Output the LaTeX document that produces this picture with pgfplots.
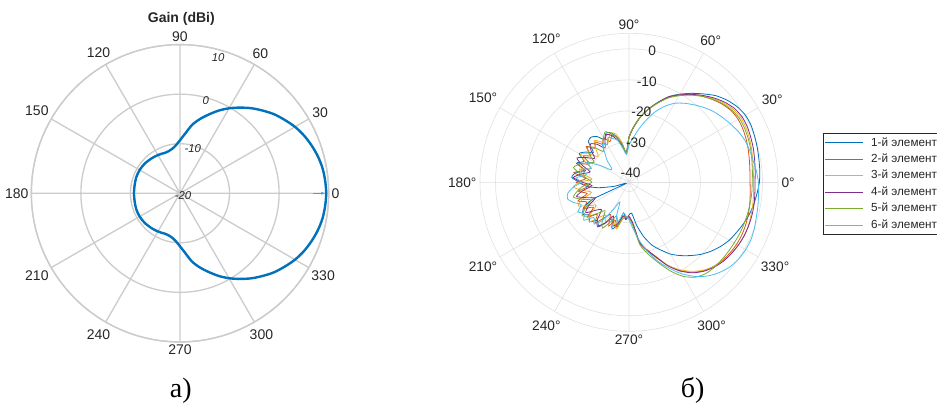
\documentclass[border=0pt]{standalone}
\usepackage{fontspec}
\setmainfont{Liberation Sans}
\newfontfamily\capfont{Liberation Serif}
\usepackage{pgfplots}
\pgfplotsset{compat=1.18}
\usepackage{pgfplotstable}
\usepgfplotslibrary{polar}
\usetikzlibrary{arrows.meta}

\definecolor{mb}{rgb}{0,0.447,0.741}
\definecolor{mo}{rgb}{0.85,0.325,0.098}
\definecolor{my}{rgb}{0.929,0.694,0.125}
\definecolor{mp}{rgb}{0.494,0.184,0.556}
\definecolor{mg}{rgb}{0.466,0.674,0.188}
\definecolor{mc}{rgb}{0.301,0.745,0.933}
\definecolor{lgrid}{rgb}{0.80,0.80,0.80}
\definecolor{rgrid}{rgb}{0.88,0.88,0.88}
\definecolor{tx}{rgb}{0.15,0.15,0.15}

% left: gain in dBi
\pgfplotstableread{
a g
-180 -10.7
-170 -10.7
-160 -10.6
-150 -10.6
-140 -10.7
-130 -10.9
-125 -11.0
-120 -11.1
-115 -11.2
-110 -11.3
-105 -11.2
-100 -10.9
-95 -10.3
-90 -9.3
-85 -7.9
-80 -6.0
-75 -4.5
-70 -3.1
-65 -1.6
-60 -0.2
-55 1.1
-50 2.4
-45 3.6
-40 4.8
-35 5.8
-30 6.8
-25 7.6
-20 8.25
-15 8.8
-10 9.2
-5 9.4
0 9.5
5 9.4
10 9.2
15 8.8
20 8.25
25 7.6
30 6.8
35 5.8
40 4.8
45 3.6
50 2.4
55 1.1
60 -0.2
65 -1.6
70 -3.1
75 -4.5
80 -6.0
85 -7.9
90 -9.3
95 -10.3
100 -10.9
105 -11.2
110 -11.3
115 -11.2
120 -11.1
125 -11.0
130 -10.9
140 -10.7
150 -10.6
160 -10.6
170 -10.7
180 -10.7
}\gainA

\pgfplotstableread{
a g
-90 -32.5
-85 -33
-80 -29
-75 -25
-70 -21.5
-65 -19
-60 -16.3
-55 -14.2
-50 -12.2
-45 -10.2
-40 -8.5
-35 -7
-30 -5.7
-25 -4.8
-20 -3.8
-15 -2.9
-10 -2.2
-5 -1.6
0 -1.0
5 -0.7
10 -0.5
15 -0.2
20 0.1
25 0.4
30 0.3
35 -0.5
40 -1.8
45 -3.5
50 -5.8
55 -8.0
60 -10.2
65 -12.5
70 -15.5
75 -18.5
80 -21.5
85 -25
90 -28.5
95 -33.5
100 -31
105 -28
110 -26
115 -25.5
120 -27
125 -25
130 -24
135 -24.5
140 -28
145 -26
150 -24.5
155 -27
160 -25
165 -28.5
170 -25.5
175 -24.5
180 -27
185 -29
190 -33
195 -38
200 -42
205 -30
210 -26
215 -25
220 -26.5
225 -25
230 -27
235 -26
240 -28
245 -30
250 -27
255 -29
260 -33
265 -31
270 -32.5
}\sA

\pgfplotstableread{
a g
-90 -32
-85 -30
-80 -23.5
-75 -20.5
-70 -17.5
-65 -13.5
-60 -10.2
-55 -7.6
-50 -5.8
-45 -4.6
-40 -3.8
-35 -3.3
-30 -3.0
-25 -2.9
-20 -3.0
-15 -3.2
-10 -3.5
-5 -3.8
0 -4.0
5 -3.9
10 -3.6
15 -3.2
20 -2.8
25 -2.5
30 -2.4
35 -2.8
40 -3.8
45 -5.2
50 -6.7
55 -8.5
60 -10.5
65 -12.7
70 -15.7
75 -18.5
80 -21.5
85 -25
90 -28.5
95 -33.5
100 -31
105 -28
110 -27
115 -28.5
120 -26.5
125 -28
130 -26
135 -27.5
140 -25
145 -28
150 -26
155 -29
160 -25.5
165 -28
170 -25
175 -29
180 -26
185 -30
190 -26.5
195 -29
200 -25.5
205 -28
210 -26
215 -29
220 -25.5
225 -28.5
230 -26
235 -29
240 -31
245 -27.5
250 -30
255 -28
260 -32
265 -31.5
270 -32
}\sB

\pgfplotstableread{
a g
-90 -32
-85 -30
-80 -23
-75 -20
-70 -17
-65 -13.5
-60 -10.5
-55 -8
-50 -6
-45 -4.6
-40 -3.6
-35 -2.9
-30 -2.4
-25 -2.1
-20 -2.1
-15 -2.3
-10 -2.5
-5 -2.7
0 -2.9
5 -2.8
10 -2.5
15 -2.1
20 -1.7
25 -1.4
30 -1.4
35 -2.0
40 -3.2
45 -4.8
50 -6.5
55 -8.4
60 -10.5
65 -12.7
70 -15.7
75 -18.6
80 -21.5
85 -25
90 -28.5
95 -33.5
100 -30
105 -27
110 -26
115 -27.5
120 -29
125 -27
130 -25.5
135 -28
140 -30
145 -27
150 -25
155 -27.5
160 -30
165 -26.5
170 -28
175 -31
180 -27
185 -25
190 -28
195 -30.5
200 -27
205 -25
210 -28
215 -30
220 -26.5
225 -25
230 -28.5
235 -30
240 -28
245 -31
250 -29
255 -27.5
260 -31
265 -32
270 -32
}\sC

\pgfplotstableread{
a g
-90 -32
-85 -30
-80 -23.3
-75 -20.3
-70 -17.3
-65 -13.3
-60 -10
-55 -7.4
-50 -5.6
-45 -4.3
-40 -3.4
-35 -2.8
-30 -2.4
-25 -2.1
-20 -2.0
-15 -2.0
-10 -2.1
-5 -2.3
0 -2.4
5 -2.2
10 -1.9
15 -1.5
20 -1.2
25 -0.9
30 -0.9
35 -1.5
40 -2.8
45 -4.5
50 -6.4
55 -8.4
60 -10.5
65 -12.6
70 -15.6
75 -18.5
80 -21.5
85 -25
90 -28.5
95 -33.5
100 -31
105 -29
110 -27
115 -26
120 -27.5
125 -29.5
130 -27
135 -25.5
140 -27
145 -29.5
150 -27
155 -24.5
160 -27
165 -30
170 -27.5
175 -25
180 -28
185 -31
190 -28
195 -25.5
200 -28.5
205 -31
210 -28
215 -26
220 -29
225 -30.5
230 -27
235 -25.5
240 -28
245 -31
250 -28
255 -29.5
260 -32
265 -31
270 -32
}\sD

\pgfplotstableread{
a g
-90 -31.5
-85 -29
-80 -22.5
-75 -19
-70 -15.5
-65 -11.5
-60 -8
-55 -5.7
-50 -4.6
-45 -4.2
-40 -4.1
-35 -4.0
-30 -3.9
-25 -3.7
-20 -3.6
-15 -3.5
-10 -3.4
-5 -3.3
0 -3.3
5 -3.1
10 -2.8
15 -2.4
20 -2.1
25 -1.9
30 -1.9
35 -2.5
40 -3.6
45 -5.1
50 -6.8
55 -8.7
60 -10.8
65 -13
70 -15.8
75 -18.6
80 -21.5
85 -25
90 -28.5
95 -33.5
100 -30.5
105 -28
110 -26.5
115 -25
120 -26.5
125 -28.5
130 -30
135 -27
140 -25.5
145 -27.5
150 -30
155 -28
160 -26
165 -24.5
170 -27
175 -29.5
180 -31
185 -28
190 -26
195 -24.5
200 -27
205 -29.5
210 -27
215 -24.5
220 -26
225 -29
230 -31
235 -28
240 -26
245 -29
250 -31.5
255 -28.5
260 -31
265 -32
270 -31.5
}\sE

\pgfplotstableread{
a g
-90 -31
-85 -28
-80 -24
-75 -20
-70 -16
-65 -12.5
-60 -9
-55 -6
-50 -3.6
-45 -1.9
-40 -0.6
-35 0.1
-30 0.4
-25 0.4
-20 0
-15 -0.5
-10 -0.8
-5 -1.1
0 -1.3
5 -1.8
10 -2.4
15 -2.8
20 -3.3
25 -4.2
30 -5.3
35 -6.4
40 -7.5
45 -8.9
50 -10.4
55 -11.9
60 -13.6
65 -16.0
70 -19.0
75 -22.5
80 -25.8
85 -28.8
90 -31
95 -34
100 -32
105 -29
110 -28
115 -27
120 -29
125 -28
130 -31
135 -33
140 -35.5
145 -36
150 -32
155 -28
160 -30
165 -27
170 -29
175 -26
180 -27.5
185 -25
190 -23
195 -22.5
200 -24
205 -26
210 -24
215 -25.5
220 -24
225 -27
230 -25.5
235 -28
240 -33
245 -36
250 -31
255 -30
260 -33
265 -32
270 -31
}\sF

\begin{document}
\begin{tikzpicture}
\path[use as bounding box] (0,0) rectangle (702.75pt,302.25pt);

% ---------- left plot ----------
\node[font=\bfseries\fontsize{10.5}{12}\selectfont, text=tx] at (136pt,288.3pt) {Gain (dBi)};
\begin{polaraxis}[
  at={(135pt,157.3pt)}, anchor=center,
  scale only axis, width=223pt, height=223pt,
  xmin=0, xmax=360, ymin=0, ymax=30,
  xtick={0,30,...,330},
  xticklabels={0,30,60,90,120,150,180,210,240,270,300,330},
  ytick={0,10,20,30}, yticklabel=\empty,
  grid=major,
  major grid style={draw=lgrid, line width=1pt},
  axis line style={draw=lgrid, line width=1pt},
  major tick length=0pt,
  xticklabel style={font=\fontsize{10.5}{12}\selectfont, text=tx, inner sep=2pt},
  clip=false,
]
\addplot[mb, line width=1.8pt, smooth] table[x=a, y expr=\thisrow{g}+20] {\gainA};
\addplot[mc!70!mb, line width=0.6pt, -{Latex[length=2.5pt,width=2.5pt]}] coordinates {(0,26.8) (0,29.2)};
\node[font=\itshape\fontsize{8.5}{10}\selectfont, text=tx, yshift=-1.5pt] at (axis cs:0,0.6) {-20};
\node[font=\itshape\fontsize{8.5}{10}\selectfont, text=tx] at (axis cs:74,9.4) {-10};
\node[font=\itshape\fontsize{8.5}{10}\selectfont, text=tx] at (axis cs:74.4,19.4) {0};
\node[font=\itshape\fontsize{8.5}{10}\selectfont, text=tx] at (axis cs:74.3,28.4) {10};
\end{polaraxis}

% ---------- right plot ----------
\begin{polaraxis}[
  at={(471.75pt,165.5pt)}, anchor=center,
  scale only axis, width=223.5pt, height=223.5pt,
  xmin=0, xmax=360, ymin=0, ymax=48,
  xtick={0,30,...,330},
  xticklabels={0°,30°,60°,90°,120°,150°,180°,210°,240°,270°,300°,330°},
  ytick={3,13,23,33,43}, yticklabel=\empty,
  grid=major,
  major grid style={draw=rgrid, line width=0.45pt},
  axis line style={draw=rgrid, line width=0.45pt},
  major tick length=0pt,
  xticklabel style={font=\fontsize{10.3}{12}\selectfont, text=tx, inner sep=2.5pt},
  clip=false,
  legend style={at={(1.150,0.6664)}, anchor=north west,
    draw=tx, line width=0.5pt, fill=white,
    font=\fontsize{8.8}{10}\selectfont, text=tx,
    inner xsep=1pt, inner ysep=1.2pt, row sep=0.3pt,
    cells={anchor=west}},
  legend image code/.code={\draw[#1] (0pt,0pt) -- (29pt,0pt); \path (32.5pt,0pt);},
]
\addplot[mb, line width=0.6pt, smooth, tension=0.4] table[x=a, y expr=\thisrow{g}+43] {\sA};
\addlegendentry{1-й элемент}
\addplot[mo, line width=0.6pt, smooth, tension=0.4] table[x=a, y expr=\thisrow{g}+43] {\sB};
\addlegendentry{2-й элемент}
\addplot[my, line width=0.6pt, smooth, tension=0.4] table[x=a, y expr=\thisrow{g}+43] {\sC};
\addlegendentry{3-й элемент}
\addplot[mp, line width=0.6pt, smooth, tension=0.4] table[x=a, y expr=\thisrow{g}+43] {\sD};
\addlegendentry{4-й элемент}
\addplot[mg, line width=0.6pt, smooth, tension=0.4] table[x=a, y expr=\thisrow{g}+43] {\sE};
\addlegendentry{5-й элемент}
\addplot[mc, line width=0.6pt, smooth, tension=0.4] table[x=a, y expr=\thisrow{g}+43] {\sF};
\addlegendentry{6-й элемент}
\node[font=\fontsize{10.3}{12}\selectfont, text=tx] at (axis cs:80,3) {-40};
\node[font=\fontsize{10.3}{12}\selectfont, text=tx] at (axis cs:80,13) {-30};
\node[font=\fontsize{10.3}{12}\selectfont, text=tx] at (axis cs:80,23) {-20};
\node[font=\fontsize{10.3}{12}\selectfont, text=tx] at (axis cs:80,33) {-10};
\node[font=\fontsize{10.3}{12}\selectfont, text=tx] at (axis cs:80,43) {0};
\end{polaraxis}

% ---------- captions ----------
\node[font=\capfont\fontsize{21}{24}\selectfont, anchor=base] at (135.6pt,4.3pt) {а)};
\node[font=\capfont\fontsize{21}{24}\selectfont, anchor=base] at (519.4pt,4.3pt) {б)};
\end{tikzpicture}
\end{document}
